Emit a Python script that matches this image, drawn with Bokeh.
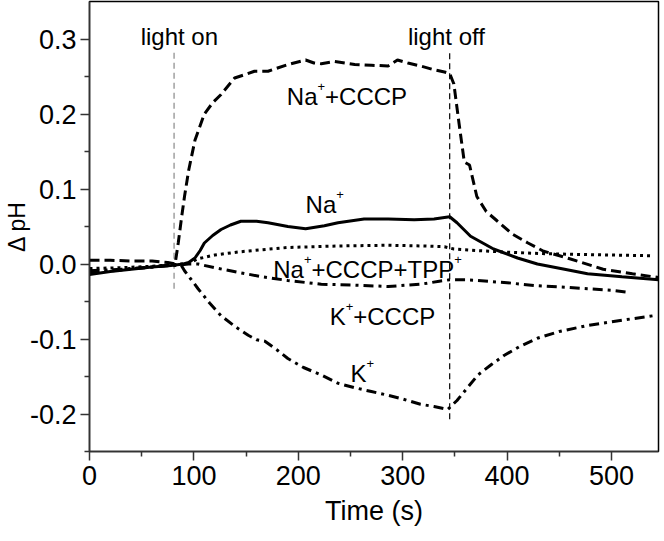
from bokeh.plotting import figure
from bokeh.models import Range1d, FixedTicker, NumeralTickFormatter, Label
from bokeh.embed import file_html
from bokeh.resources import INLINE

# ---------------- data ----------------
na_cccp_t = [0, 20, 40, 60, 75, 82, 85, 88, 91, 95, 101, 110, 118, 126, 139, 150, 158, 171,
             190, 207, 215, 222, 235, 254, 270, 286, 295, 305, 317, 330, 340, 345, 349, 354,
             359, 364, 371, 380, 390, 405, 420, 435, 460, 492, 520, 545]
na_cccp_ph = [0.005, 0.005, 0.004, 0.004, 0.002, 0.0, 0.028, 0.06, 0.09, 0.125, 0.165, 0.20,
              0.215, 0.226, 0.248, 0.253, 0.257, 0.257, 0.266, 0.272, 0.268, 0.267, 0.270,
              0.266, 0.265, 0.264, 0.272, 0.268, 0.264, 0.259, 0.256, 0.254, 0.240, 0.187,
              0.136, 0.132, 0.090, 0.070, 0.058, 0.040, 0.028, 0.017, 0.007, -0.007, -0.013, -0.018]

na_t = [0, 20, 40, 60, 78, 90, 95, 101, 106, 110, 118, 126, 135, 145, 160, 171, 190, 207, 225,
        238, 263, 286, 311, 330, 345, 352, 365, 387, 410, 429, 455, 477, 510, 545]
na_ph = [-0.014, -0.010, -0.007, -0.004, -0.002, 0.0, 0.002, 0.008, 0.018, 0.028, 0.038, 0.046,
         0.052, 0.057, 0.057, 0.055, 0.050, 0.047, 0.051, 0.055, 0.060, 0.060, 0.059, 0.060,
         0.063, 0.055, 0.037, 0.020, 0.008, 0.0, -0.007, -0.013, -0.017, -0.021]

tpp_t = [0, 30, 60, 80, 95, 104, 120, 142, 165, 190, 238, 286, 320, 340, 349, 370, 397, 430,
         460, 500, 537]
tpp_ph = [-0.006, -0.005, -0.003, -0.001, 0.001, 0.007, 0.012, 0.016, 0.019, 0.022, 0.024,
          0.025, 0.024, 0.023, 0.020, 0.018, 0.016, 0.014, 0.013, 0.012, 0.011]

k_cccp_t = [0, 30, 60, 80, 95, 104, 120, 142, 165, 190, 222, 250, 286, 317, 335, 345, 360, 371,
            400, 429, 455, 477, 500, 518]
k_cccp_ph = [-0.009, -0.007, -0.004, -0.002, 0.0, 0.0, -0.005, -0.011, -0.017, -0.022, -0.027,
             -0.028, -0.030, -0.027, -0.023, -0.021, -0.021, -0.022, -0.025, -0.029, -0.031,
             -0.033, -0.035, -0.038]

k_t = [0, 30, 60, 80, 88, 91, 97, 104, 115, 126, 140, 152, 160, 168, 180, 190, 205, 222, 238,
       254, 270, 286, 300, 317, 330, 343, 352, 362, 372, 385, 397, 412, 429, 450, 477, 510, 540]
k_ph = [-0.012, -0.008, -0.004, -0.001, -0.002, -0.009, -0.020, -0.033, -0.052, -0.069, -0.084,
        -0.095, -0.101, -0.103, -0.115, -0.126, -0.138, -0.148, -0.159, -0.165, -0.170, -0.175,
        -0.180, -0.187, -0.190, -0.194, -0.182, -0.165, -0.148, -0.134, -0.122, -0.110, -0.099,
        -0.090, -0.082, -0.075, -0.069]

light_on_t = 81
light_off_t = 345
light_line_top = 0.284
light_line_bottom = [-0.033, -0.207]

x_ticks = [0, 100, 200, 300, 400, 500]
x_minor = [50, 150, 250, 350, 450]
y_ticks = [-0.2, -0.1, 0.0, 0.1, 0.2, 0.3]
y_minor = [-0.25, -0.15, -0.05, 0.05, 0.15, 0.25]

x_title = "Time (s)"
y_title = "\u0394 pH"

# annotation texts: (parts, x, y) ; parts = (text, is_superscript)
annotations = [
    ([("light on", False)], 49, 0.304),
    ([("light off", False)], 305, 0.304),
    ([("Na", False), ("+", True), ("+CCCP", False)], 189, 0.223),
    ([("Na", False), ("+", True)], 207, 0.080),
    ([("Na", False), ("+", True), ("+CCCP+TPP", False), ("+", True)], 176, -0.007),
    ([("K", False), ("+", True), ("+CCCP", False)], 230, -0.070),
    ([("K", False), ("+", True)], 250, -0.146),
]

FONT = "Liberation Sans"
BIG = 24
TICK = 27
XTITLE = 27
YTITLE = 23
SMALL = 13
WID = {"N": .722, "a": .556, "+": .584, "C": .722, "P": .667, "K": .667, "T": .611,
       "l": .222, "i": .222, "g": .556, "h": .556, "t": .278, " ": .278, "o": .556,
       "n": .556, "f": .278}

p = figure(frame_width=569, frame_height=450, output_backend="svg", toolbar_location=None,
           x_range=Range1d(0, 545), y_range=Range1d(-0.25, 0.35),
           min_border_left=83, min_border_right=4, min_border_top=1, min_border_bottom=60)
p.background_fill_color = "white"
p.border_fill_color = "white"
p.outline_line_color = "black"
p.outline_line_width = 1.5
p.xgrid.visible = False
p.ygrid.visible = False

for ax in (p.xaxis[0], p.yaxis[0]):
    ax.axis_line_width = 1.5
    ax.axis_line_color = "#333333"
    ax.major_tick_line_color = "#333333"
    ax.minor_tick_line_color = "#333333"
    ax.major_tick_line_width = 1.5
    ax.minor_tick_line_width = 1.5
    ax.major_tick_in = 0
    ax.major_tick_out = 9
    ax.minor_tick_in = 0
    ax.minor_tick_out = 5
    ax.major_label_text_font = FONT
    ax.major_label_text_font_size = f"{TICK}px"
    ax.major_label_text_color = "black"
    ax.axis_label_text_font = FONT
    ax.axis_label_text_font_style = "normal"
    ax.axis_label_text_color = "black"

p.xaxis.ticker = FixedTicker(ticks=x_ticks, minor_ticks=x_minor)
p.yaxis.ticker = FixedTicker(ticks=y_ticks, minor_ticks=y_minor)
p.yaxis.formatter = NumeralTickFormatter(format="0.0")
p.xaxis.axis_label = x_title
p.yaxis.axis_label = y_title
p.xaxis.axis_label_text_font_size = f"{XTITLE}px"
p.yaxis.axis_label_text_font_size = f"{YTITLE}px"
p.yaxis.major_label_standoff = 4
p.xaxis.major_label_standoff = 5
p.yaxis.axis_label_standoff = -3
p.xaxis.axis_label_standoff = 8

# light on / off markers
p.segment(x0=[light_on_t], y0=[light_line_bottom[0]], x1=[light_on_t], y1=[light_line_top],
          line_color="#888888", line_width=1.2, line_dash="6 4")
p.segment(x0=[light_off_t], y0=[light_line_bottom[1]], x1=[light_off_t], y1=[light_line_top],
          line_color="black", line_width=1.2, line_dash="6 4")

p.line(na_cccp_t, na_cccp_ph, line_color="black", line_width=3, line_dash="10 5")
p.line(na_t, na_ph, line_color="black", line_width=3)
p.line(tpp_t, tpp_ph, line_color="black", line_width=3, line_dash="3 4")
p.line(k_cccp_t, k_cccp_ph, line_color="black", line_width=3, line_dash="10 5 3 5")
p.line(k_t, k_ph, line_color="black", line_width=3, line_dash="10 5 3 5")

for parts, x, y in annotations:
    off = 0.0
    for text, sup in parts:
        size = SMALL if sup else BIG
        p.add_layout(Label(x=x, y=y, text=text, x_offset=off, y_offset=10 if sup else 0,
                           text_font=FONT, text_font_size=f"{size}px", text_color="black",
                           text_baseline="alphabetic", text_align="left"))
        off += sum(WID.get(c, 0.556) for c in text) * size

open("out.html", "w").write(file_html(p, INLINE))
